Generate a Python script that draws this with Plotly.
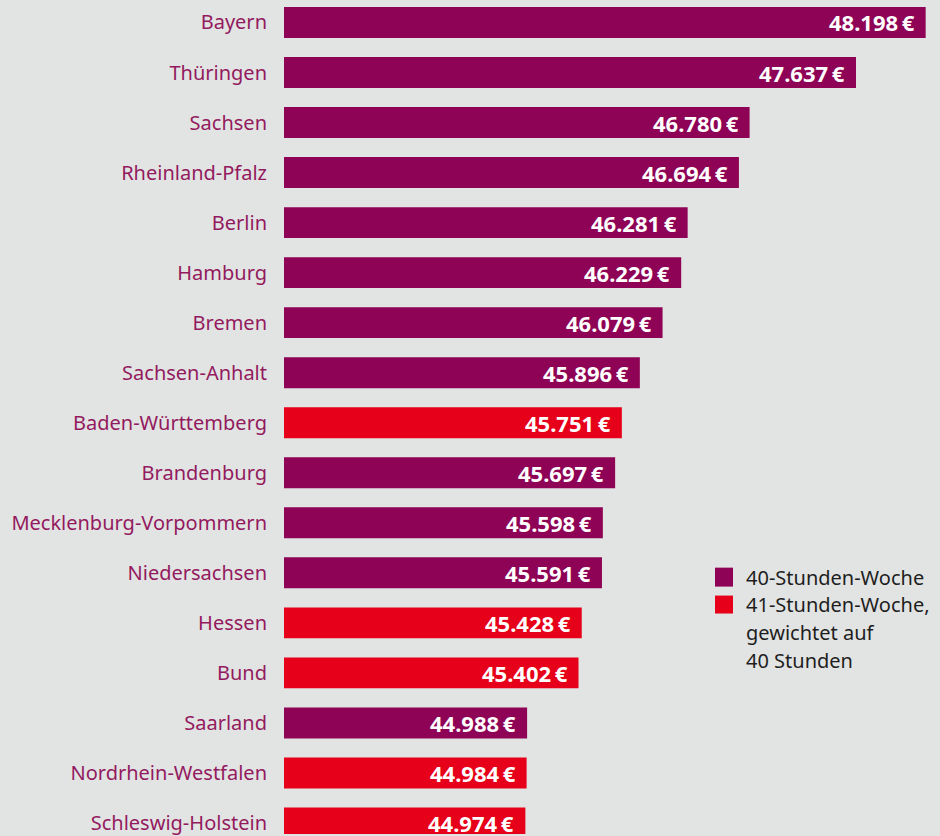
import plotly.graph_objects as go

states = ["Bayern", "Thüringen", "Sachsen", "Rheinland-Pfalz", "Berlin", "Hamburg",
          "Bremen", "Sachsen-Anhalt", "Baden-Württemberg", "Brandenburg",
          "Mecklenburg-Vorpommern", "Niedersachsen", "Hessen", "Bund", "Saarland",
          "Nordrhein-Westfalen", "Schleswig-Holstein"]
salary = [48198, 47637, 46780, 46694, 46281, 46229, 46079, 45896, 45751, 45697,
          45598, 45591, 45428, 45402, 44988, 44984, 44974]
week_hours = [40, 40, 40, 40, 40, 40, 40, 40, 41, 40, 40, 40, 41, 41, 40, 41, 41]

legend_labels = {40: ["40-Stunden-Woche"],
                 41: ["41-Stunden-Woche,", "gewichtet auf", "40 Stunden"]}

PURPLE = "#8e0355"
RED = "#e60019"
BG = "#e2e4e3"
LABEL = "#931a5e"
FONT = "Noto Sans"

colors = [PURPLE if h == 40 else RED for h in week_hours]

def fmt(v):
    return f"{v:,}".replace(",", ".") + "\u2009€"

fig = go.Figure()
fig.add_trace(go.Bar(
    y=states, x=salary, orientation="h",
    marker=dict(color=colors, line=dict(width=0)),
    showlegend=False, hoverinfo="x+y",
))

for s, v in zip(states, salary):
    fig.add_annotation(x=v, y=s, xref="x", yref="y", text=fmt(v), showarrow=False,
                       xanchor="right", xshift=-9, yshift=0,
                       font=dict(family=FONT, size=22, color="white", weight="bold"))

W, H = 940, 836
L = 284
def px(x):
    return (x - L) / (W - L)
def py(y):
    return 1 - y / H

# legend
LINE = 28
for (hours, lines), (y0, y1) in zip(legend_labels.items(), [(569, 588), (597, 615)]):
    fig.add_shape(type="rect", xref="paper", yref="paper",
                  x0=px(715), x1=px(733), y0=py(y1), y1=py(y0),
                  fillcolor=PURPLE if hours == 40 else RED, line=dict(width=0))
    for i, line in enumerate(lines):
        cy = (y0 + y1) / 2 + i * LINE
        fig.add_annotation(xref="paper", yref="paper", x=px(744), y=py(cy),
                           xanchor="left", yanchor="middle", align="left", showarrow=False,
                           text=line, font=dict(family=FONT, size=20, color="#1e1e1e"))

x0 = 43030
scale = 0.12416
fig.update_layout(
    width=W, height=H,
    margin=dict(l=L, r=0, t=0, b=0),
    paper_bgcolor=BG, plot_bgcolor=BG,
    bargap=0.382,
    xaxis=dict(range=[x0, x0 + (W - L) / scale], visible=False, fixedrange=True),
    yaxis=dict(type="category", categoryorder="array", categoryarray=states,
               range=[16.22, -0.449], showgrid=False, zeroline=False, showline=False,
               ticks="outside", ticklen=12, tickcolor="rgba(0,0,0,0)",
               tickfont=dict(family=FONT, size=20, color=LABEL)),
    font=dict(family=FONT),
)

fig.write_html("out.html", config={"displayModeBar": False},
               post_script="document.body.style.margin='0';document.body.style.background='%s';" % BG)
